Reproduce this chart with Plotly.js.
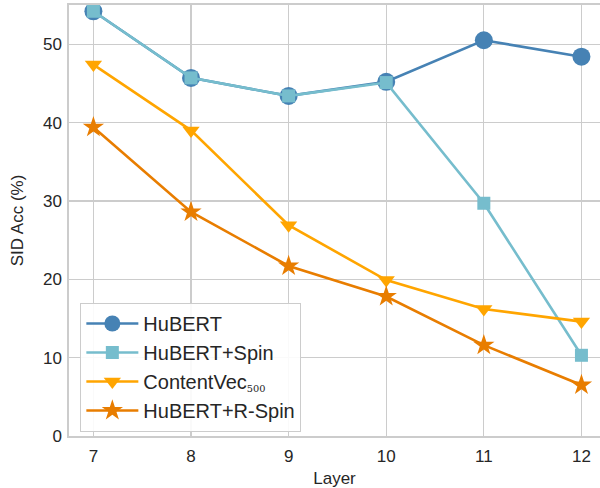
<!DOCTYPE html>
<html>
<head>
<meta charset="utf-8">
<script src="https://cdn.plot.ly/plotly-3.0.1.min.js"></script>
<style>html,body{margin:0;padding:0;background:#fff;}#chart{width:600px;height:488px;}</style>
</head>
<body>
<div id="chart"></div>
<script>
const layers = [7, 8, 9, 10, 11, 12];
const hubert = [54.2, 45.7, 43.4, 45.2, 50.5, 48.4];
const hubertSpin = [54.2, 45.7, 43.4, 45.1, 29.7, 10.3];
const contentVec = [47.4, 39.0, 26.9, 19.9, 16.2, 14.6];
const hubertRSpin = [39.4, 28.6, 21.7, 17.8, 11.6, 6.5];
const seriesNames = ["HuBERT", "HuBERT+Spin", "ContentVec<span style=\"font-family:'DejaVu Serif',serif;font-size:14px\"><sub>500</sub></span>", "HuBERT+R-Spin"];
const yTicks = [0, 10, 20, 30, 40, 50];

const colors = ["#4682b4", "#76bdcd", "#ffa500", "#e87d00"];
const symbols = ["circle", "square", "triangle-down", "star"];
const sizes = [18, 13, 15, 16];
const data = [hubert, hubertSpin, contentVec, hubertRSpin].map((ys, i) => ({
  x: layers, y: ys, name: seriesNames[i], type: "scatter", mode: "lines+markers",
  line: {color: colors[i], width: 2.6},
  marker: {symbol: symbols[i], size: sizes[i], color: colors[i], line: {width: 0}}
}));

const layout = {
  width: 600, height: 488,
  margin: {l: 69, r: 0, t: 5, b: 52},
  paper_bgcolor: "#fff", plot_bgcolor: "#fff",
  font: {family: "Liberation Sans, Arial, sans-serif", size: 17, color: "#262626"},
  showlegend: true,
  legend: {
    x: 0.021, y: 0.309, xanchor: "left", yanchor: "top",
    bgcolor: "rgba(255,255,255,0.9)", bordercolor: "#cccccc", borderwidth: 1.2,
    font: {size: 20, color: "#262626"}, itemwidth: 52
  },
  xaxis: {
    range: [6.75, 12.19], tickvals: layers, ticktext: layers.map(String),
    showgrid: true, gridcolor: "#cccccc", gridwidth: 1.2,
    showline: true, linecolor: "#cccccc", linewidth: 1.6, mirror: true,
    zeroline: false, ticks: "", ticklabelstandoff: 4,
    title: {text: "Layer", font: {size: 17}, standoff: 9}
  },
  yaxis: {
    range: [0, 55], tickvals: yTicks,
    showgrid: true, gridcolor: "#cccccc", gridwidth: 1.2,
    showline: true, linecolor: "#cccccc", linewidth: 1.6,
    zeroline: false, ticks: "", ticklabelstandoff: 2,
    title: {text: "SID Acc (%)", font: {size: 17}, standoff: 15}
  }
};
Plotly.newPlot("chart", data, layout, {displayModeBar: false, staticPlot: true});
</script>
</body>
</html>
